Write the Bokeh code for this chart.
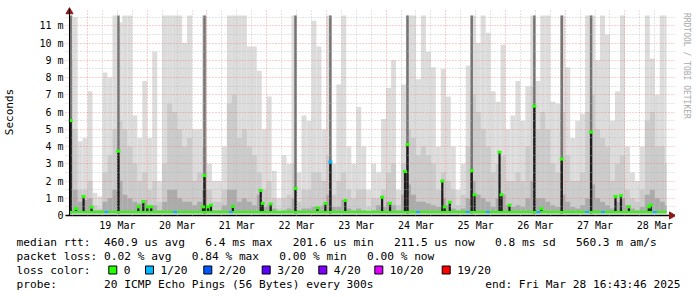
import math
from bokeh.plotting import figure
from bokeh.layouts import column, row
from bokeh.models import FixedTicker, Grid, Range1d, Span
from bokeh.embed import file_html
from bokeh.resources import INLINE
from bokeh.core.properties import value

# ---------------- data (hours since 18 Mar 00:00, values in ms) ----------------
START_H = 16.73          # 18 Mar 16:43:46
END_H = 256.73           # 28 Mar 16:43:46
bin_start = list(range(16, 258, 2))   # 2-hour smoke bins

smoke_max = [11.6, 11.5, 4.3, 4.5, 7.2, 1.3, 1.1, 8.3, 8.0, 11.6,
             11.2, 11.6, 11.6, 5.8, 4.5, 7.8, 4.5, 9.5, 2.0, 11.6,
             11.6, 11.6, 11.6, 10.0, 11.6, 5.0, 5.0, 11.6, 3.0, 2.0,
             2.0, 4.0, 11.6, 11.6, 11.6, 11.6, 9.8, 9.8, 8.4, 5.0,
             6.9, 2.6, 1.0, 3.5, 3.0, 11.6, 2.5, 5.8, 5.5, 11.3,
             9.8, 5.0, 11.6, 3.0, 7.6, 11.6, 4.0, 3.0, 6.3, 4.0,
             1.5, 3.0, 2.5, 5.6, 7.4, 9.0, 1.5, 7.6, 11.6, 11.6,
             7.9, 11.6, 9.5, 8.6, 4.0, 8.5, 6.9, 4.0, 1.5, 3.0,
             8.7, 11.6, 10.0, 11.6, 10.6, 7.2, 6.6, 9.9, 5.0, 5.8,
             7.8, 5.5, 7.5, 11.6, 7.8, 11.6, 11.6, 6.6, 6.5, 11.6,
             8.6, 4.5, 5.5, 5.9, 11.6, 11.6, 9.0, 11.6, 10.5, 5.5,
             7.2, 11.6, 4.0, 2.5, 2.0, 4.0, 11.6, 9.1, 7.0, 11.6,
             11.6]
smoke_mid = [9.0, 5.0, 1.5, 1.5, 2.0, 0.6, 0.4, 2.5, 3.5, 5.0,
             5.5, 5.0, 4.0, 3.0, 2.0, 2.5, 1.5, 2.0, 0.8, 3.0,
             6.5, 6.0, 5.0, 4.0, 4.5, 2.0, 2.5, 4.0, 1.5, 0.8,
             0.8, 1.5, 6.5, 7.0, 4.5, 5.0, 4.0, 3.5, 2.5, 1.5,
             2.0, 1.0, 0.4, 1.0, 1.2, 3.0, 0.8, 1.5, 1.5, 2.5,
             2.5, 2.0, 3.5, 1.2, 2.0, 2.5, 1.5, 1.0, 1.5, 1.5,
             0.5, 1.0, 1.0, 1.5, 2.5, 3.0, 0.6, 3.0, 5.0, 4.5,
             3.5, 4.0, 3.5, 3.0, 1.5, 2.5, 2.0, 1.5, 0.6, 1.2,
             4.0, 7.0, 6.0, 5.0, 4.0, 2.5, 3.0, 3.5, 2.0, 2.0,
             2.5, 2.0, 4.0, 7.5, 5.0, 6.0, 5.0, 3.0, 2.5, 6.0,
             3.5, 2.0, 2.0, 2.5, 6.0, 7.0, 5.0, 4.5, 4.0, 2.0,
             3.0, 3.5, 1.5, 1.0, 0.8, 1.5, 5.5, 6.0, 4.0, 4.0,
             3.0]
smoke_dark = [5.0, 1.5, 0.8, 0.9, 1.0, 0.3, 0.3, 0.8, 1.0, 1.5,
              2.0, 1.2, 1.0, 0.8, 0.7, 0.9, 0.6, 0.6, 0.3, 0.8,
              1.5, 1.5, 1.0, 0.8, 0.8, 0.6, 0.8, 1.5, 0.6, 0.3,
              0.3, 0.6, 1.5, 1.5, 0.8, 1.0, 0.8, 0.6, 1.2, 0.5,
              0.6, 0.4, 0.2, 0.3, 0.4, 1.0, 0.3, 0.4, 0.4, 0.5,
              0.5, 0.6, 1.2, 0.5, 0.5, 0.9, 0.4, 0.3, 0.4, 0.3,
              0.2, 0.3, 0.6, 0.5, 0.8, 0.6, 0.3, 1.2, 1.8, 1.2,
              0.8, 0.8, 0.7, 0.6, 0.5, 1.0, 0.6, 0.4, 0.3, 0.4,
              1.0, 2.0, 1.2, 1.0, 0.8, 0.5, 1.0, 1.2, 0.6, 0.5,
              0.6, 0.5, 1.0, 2.0, 1.0, 1.0, 0.8, 0.6, 0.5, 1.2,
              0.8, 0.5, 0.4, 0.6, 1.0, 1.8, 1.0, 0.8, 0.6, 0.4,
              0.8, 1.0, 0.6, 0.4, 0.3, 0.5, 1.2, 1.5, 1.0, 0.8,
              0.6]

# median spikes: time (h), median (ms), loss index
spike_t = [17.2, 19.4, 22.4, 25.6, 36.4, 44.4, 46.4, 48.0, 49.6, 70.4,
           71.0, 72.4, 73.6, 82.4, 93.6, 94.4, 97.6, 107.6, 116.4, 119.6,
           121.6, 127.6, 142.4, 145.6, 151.6, 152.6, 166.6, 167.6, 169.6, 178.4,
           179.6, 189.6, 190.4, 193.6, 203.6, 206.4, 214.6, 226.4, 236.2, 238.4,
           241.6, 249.6, 250.4]
spike_med = [5.5, 0.4, 1.1, 0.48, 3.73, 0.5, 0.8, 0.5, 0.5, 0.5,
             2.32, 0.5, 0.6, 0.52, 1.45, 0.7, 0.67, 1.57, 0.45, 0.7,
             3.1, 0.87, 1.06, 0.7, 2.55, 4.12, 2.0, 0.5, 0.77, 2.6,
             1.2, 3.67, 1.2, 0.6, 6.34, 0.4, 3.27, 4.83, 1.1, 1.15,
             0.5, 0.5, 0.6]
spike_loss = [0, 0, 0, 0, 0, 0, 0, 0, 0, 0,
              0, 0, 0, 0, 0, 0, 0, 0, 0, 0,
              1, 0, 0, 0, 0, 0, 0, 0, 0, 0,
              0, 0, 0, 0, 0, 0, 0, 0, 0, 0,
              0, 0, 0]
# full-height dark smoke columns at the big spikes
column_t = [17.2, 36.4, 71.0, 107.6, 121.6, 152.6, 178.4, 203.6, 214.6, 226.4]
column_top = [11.6, 11.6, 11.6, 11.6, 11.6, 11.6, 11.6, 11.6, 11.6, 11.6]

median_base = 0.2
loss1_t = [31.6, 59.2, 81.6, 156.8, 176.8, 184.8, 205.2, 224.8, 231.2, 252.0]

day_ticks = [36, 60, 84, 108, 132, 156, 180, 204, 228, 252]
day_labels = ["19 Mar", "20 Mar", "21 Mar", "22 Mar", "23 Mar",
              "24 Mar", "25 Mar", "26 Mar", "27 Mar", "28 Mar"]
midnights = [24, 48, 72, 96, 120, 144, 168, 192, 216, 240]
six_hours = [h for h in range(18, 256, 6) if h % 24 != 0]
y_ticks = list(range(0, 12))
y_labels = ["0"] + ["%d m" % v for v in range(1, 12)]
y_major_grid = list(range(1, 12))
y_minor_grid = [v + 0.5 for v in range(0, 12)]

loss_colors = ["#26ff00", "#00b8ff", "#0059ff", "#5e00ff", "#7e00ff", "#dd00ff", "#ff0000"]
loss_names = ["0", "1/20", "2/20", "3/20", "4/20", "10/20", "19/20"]

legend_lines = [
    [(0, "median rtt:"), (13, "460.9 us avg"), (28, "6.4 ms max"), (41, "201.6 us min"),
     (56, "211.5 us now"), (71, "0.8 ms sd"), (83, "560.3 m am/s")],
    [(0, "packet loss:"), (13, "0.02 % avg"), (26, "0.84 % max"), (39, "0.00 % min"),
     (52, "0.00 % now")],
]
watermark = "RRDTOOL / TOBI OETIKER"

# ---------------- main figure ----------------
W = 697
FL, FR, FT, FB = 62, 675, 8, 215
MAIN_H = 235
PX_H = 0.4                      # hours per pixel
X0 = START_H - (66 - FL) * PX_H
X1 = START_H + (FR - 66) * PX_H
Y1 = 11.6 * (FB - FT) / (FB - 15)

p = figure(width=FR, height=MAIN_H, output_backend="svg", toolbar_location=None,
           x_range=Range1d(X0, X1), y_range=Range1d(0, Y1),
           min_border_left=FL, min_border_right=0,
           min_border_top=FT, min_border_bottom=MAIN_H - FB)
p.outline_line_color = None
p.background_fill_color = "white"
p.border_fill_color = "white"

left = [max(b, START_H) for b in bin_start]
right = [min(b + 2, END_H) for b in bin_start]
bottom = [0.12] * len(left)
p.quad(left=left, right=right, bottom=bottom, top=smoke_max,
       fill_color="#dcdcdc", line_color=None)
p.quad(left=left, right=right, bottom=bottom, top=smoke_mid,
       fill_color="#cbcbcb", line_color=None)
p.quad(left=left, right=right, bottom=bottom, top=smoke_dark,
       fill_color="#ababab", line_color=None)

p.vbar(x=column_t, top=column_top, bottom=0.12, width=1.0,
       fill_color="#737373", line_color=None)
p.vbar(x=spike_t, top=spike_med, bottom=0.15, width=0.9,
       fill_color="#1c1c1c", line_color=None)

g = p.line([START_H, END_H], [median_base, median_base], line_color=loss_colors[0], line_width=2)
g.level = "annotation"
cap_colors = [loss_colors[l] for l in spike_loss]
r = p.rect(x=spike_t, y=spike_med, width=1.6, height=3, height_units="screen",
           fill_color=cap_colors, line_color=None)
r.level = "annotation"
r2 = p.rect(x=loss1_t, y=[median_base] * len(loss1_t), width=1.6, height=2,
            height_units="screen", fill_color=loss_colors[1], line_color=None)
r2.level = "annotation"

# grids
p.xgrid.ticker = FixedTicker(ticks=midnights)
p.ygrid.ticker = FixedTicker(ticks=y_major_grid)
for gr in (p.xgrid[0], p.ygrid[0]):
    gr.grid_line_color = "#ff5f5f"
    gr.grid_line_alpha = 0.6
    gr.grid_line_dash = "1 2"
    gr.level = "guide"
for dim, ticks in ((0, six_hours), (1, y_minor_grid)):
    mg = Grid(dimension=dim, ticker=FixedTicker(ticks=ticks), grid_line_color="#b0b0b0",
              grid_line_alpha=0.7, grid_line_dash="1 2", level="guide")
    p.add_layout(mg)

# y axis line at the start of the data, axis arrows
p.add_layout(Span(location=START_H, dimension="height", line_color="#000000",
                  line_width=1, level="annotation"))
a1 = p.scatter(x=[START_H], y=[11.82], marker="triangle", size=7,
               fill_color="#8b1a1a", line_color="#8b1a1a")
a1.level = "annotation"
a2 = p.scatter(x=[END_H + 2.0], y=[0], marker="triangle", size=7, angle=-math.pi / 2,
               fill_color="#8b1a1a", line_color="#8b1a1a")
a2.level = "annotation"

# axes
xa = p.xaxis[0]
xa.ticker = FixedTicker(ticks=day_ticks)
xa.major_label_overrides = {t: l for t, l in zip(day_ticks, day_labels)}
xa.major_tick_out = 0
xa.major_tick_in = 0
xa.minor_tick_out = 0
xa.minor_tick_in = 0
xa.major_label_standoff = 4
xa.axis_line_color = "#000000"
xa.axis_line_width = 1.5
ya = p.yaxis[0]
ya.ticker = FixedTicker(ticks=y_ticks)
ya.major_label_overrides = {t: l for t, l in zip(y_ticks, y_labels)}
ya.major_tick_out = 0
ya.major_tick_in = 0
ya.minor_tick_out = 0
ya.minor_tick_in = 0
ya.major_label_standoff = 2
ya.axis_line_color = None
ya.axis_label = "Seconds"
ya.axis_label_standoff = 20
ya.axis_label_text_font = "DejaVu Sans Mono"
ya.axis_label_text_font_size = "11px"
ya.axis_label_text_font_style = "normal"
ya.axis_label_text_color = "#000000"
for ax in (xa, ya):
    ax.major_label_text_font = "DejaVu Sans Mono"
    ax.major_label_text_font_size = "10px"
    ax.major_label_text_color = "#000000"

# ---------------- watermark strip (right) ----------------
wm = figure(width=W - FR, height=MAIN_H, output_backend="svg", toolbar_location=None,
            x_range=Range1d(FR, W), y_range=Range1d(MAIN_H, 0),
            x_axis_type=None, y_axis_type=None, min_border=0)
wm.outline_line_color = None
wm.grid.visible = False
wm.text(x=[686], y=[5], text=[watermark], angle=-math.pi / 2,
        text_font=value("DejaVu Sans Mono"), text_font_size="8px",
        text_color="#a8a8a8", text_align="left", text_baseline="middle")

# ---------------- legend strip (bottom) ----------------
LG_H = 297 - MAIN_H
lg = figure(width=W, height=LG_H, output_backend="svg", toolbar_location=None,
            x_range=Range1d(0, W), y_range=Range1d(297, MAIN_H),
            x_axis_type=None, y_axis_type=None, min_border=0)
lg.outline_line_color = None
lg.grid.visible = False

CW = 6.74
tx, ty, tt = [], [], []
for rowi, items in enumerate(legend_lines):
    for col, txt in items:
        tx.append(16 + col * CW)
        ty.append(241.5 + rowi * 14)
        tt.append(txt)
tx += [16, 16, 16 + 13 * CW]
ty += [269.5, 283.5, 283.5]
tt += ["loss color:", "probe:", "20 ICMP Echo Pings (56 Bytes) every 300s"]
item_x = [123.3, 160.0, 218.3, 276.7, 333.3, 389.3, 456.7]
tx += item_x
ty += [269.5] * len(item_x)
tt += loss_names
lg.text(x=tx, y=ty, text=tt, text_font=value("DejaVu Sans Mono"), text_font_size="11.2px",
        text_color="#000000", text_align="left", text_baseline="middle")
lg.text(x=[680], y=[283.5], text=["end: Fri Mar 28 16:43:46 2025"],
        text_font=value("DejaVu Sans Mono"), text_font_size="11.2px",
        text_color="#000000", text_align="right", text_baseline="middle")
lg.quad(left=[x - 15 for x in item_x], right=[x - 7 for x in item_x],
        top=[265.5] * len(item_x), bottom=[273.5] * len(item_x),
        fill_color=loss_colors, line_color="#000000", line_width=1)

layout = column(row(p, wm, spacing=0), lg, spacing=0)
open("out.html", "w").write(file_html(layout, INLINE))
